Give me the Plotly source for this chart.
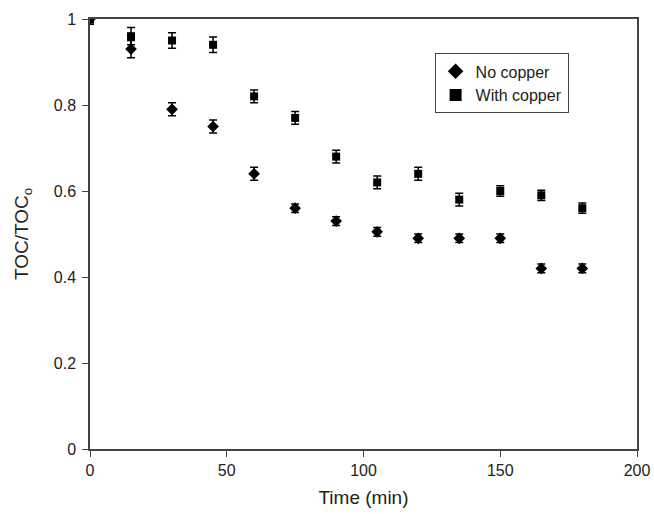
import plotly.graph_objects as go

time_min = [0, 15, 30, 45, 60, 75, 90, 105, 120, 135, 150, 165, 180]
no_copper = [1.0, 0.93, 0.79, 0.75, 0.64, 0.56, 0.53, 0.505, 0.49, 0.49, 0.49, 0.42, 0.42]
no_copper_err = [0.012, 0.02, 0.015, 0.015, 0.015, 0.01, 0.01, 0.01, 0.01, 0.01, 0.01, 0.01, 0.01]
with_copper = [1.0, 0.96, 0.95, 0.94, 0.82, 0.77, 0.68, 0.62, 0.64, 0.58, 0.60, 0.59, 0.56]
with_copper_err = [0.012, 0.02, 0.018, 0.018, 0.015, 0.015, 0.015, 0.015, 0.015, 0.015, 0.012, 0.012, 0.012]

font = "Liberation Sans, Arial, sans-serif"

fig = go.Figure()
fig.add_trace(go.Scatter(
    x=time_min, y=no_copper, mode="markers", name="No copper",
    marker=dict(symbol="diamond", size=9, color="black"),
    error_y=dict(type="data", array=no_copper_err, visible=True, color="black", thickness=1.5, width=4),
))
fig.add_trace(go.Scatter(
    x=time_min, y=with_copper, mode="markers", name="With copper",
    marker=dict(symbol="square", size=8, color="black"),
    error_y=dict(type="data", array=with_copper_err, visible=True, color="black", thickness=1.5, width=4),
))

fig.update_layout(
    width=654, height=514,
    margin=dict(l=90, r=17, t=19, b=65, autoexpand=False),
    paper_bgcolor="white", plot_bgcolor="white",
    font=dict(family=font, size=16, color="#222"),
    showlegend=True,
    legend=dict(x=0.63, y=0.92, xanchor="left", yanchor="top",
                bordercolor="#444", borderwidth=1, bgcolor="white",
                font=dict(size=16), itemsizing="constant", itemwidth=30, tracegroupgap=2),
    xaxis=dict(range=[0, 200], tickvals=[0, 50, 100, 150, 200], ticks="outside", ticklen=6,
               showline=True, linecolor="#444", linewidth=1.5, mirror=True, showgrid=False,
               zeroline=False, automargin=False, title=dict(text="Time (min)", standoff=13),
               tickcolor="#444", tickfont=dict(size=16)),
    yaxis=dict(range=[0, 1], tickvals=[0, 0.2, 0.4, 0.6, 0.8, 1], ticktext=["0", "0.2", "0.4", "0.6", "0.8", "1"],
               ticks="outside", ticklen=6, ticklabelstandoff=3, showline=True, linecolor="#444", linewidth=1.5,
               mirror=True, showgrid=False, zeroline=False, automargin=False,
               title=dict(text="TOC/TOC<sub>o</sub>", standoff=20),
               tickcolor="#444", tickfont=dict(size=16)),
)

fig.write_html("out.html", config={"displayModeBar": False},
               post_script="document.body.style.margin='0px';")
